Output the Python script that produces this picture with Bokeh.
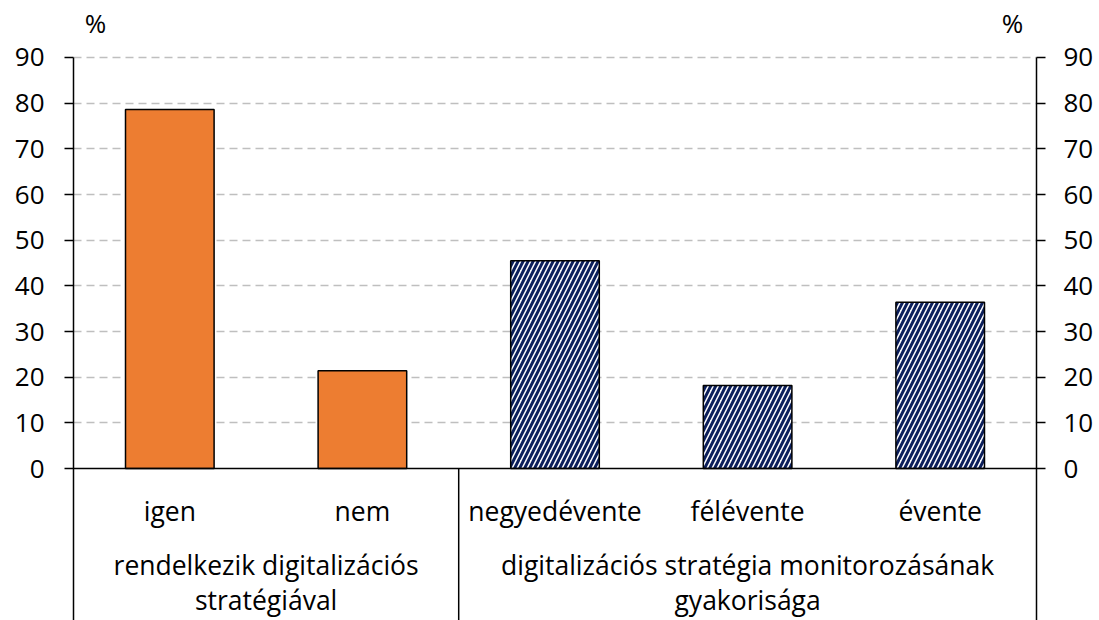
from bokeh.plotting import figure
from bokeh.models import Range1d, FixedTicker, LinearAxis, Span
from bokeh.core.properties import value
from bokeh.embed import file_html
from bokeh.resources import INLINE

# ---- data ----
categories = ["igen", "nem", "negyedévente", "félévente", "évente"]
values = [78.6, 21.4, 45.5, 18.2, 36.4]
group_lines = [["rendelkezik digitalizációs", "stratégiával"],
               ["digitalizációs stratégia monitorozásának", "gyakorisága"]]
group_sizes = [2, 3]
y_ticks = [0, 10, 20, 30, 40, 50, 60, 70, 80, 90]
unit_label = "%"

FONT = "Open Sans"
FS = "26.5px"
Y_MIN = -33.28
Y_MAX = 102.48

xs = [i + 0.5 for i in range(len(categories))]
n1 = group_sizes[0]

p = figure(width=1099, height=620, output_backend="svg", toolbar_location=None,
           x_range=Range1d(0, len(categories)), y_range=Range1d(Y_MIN, Y_MAX),
           x_axis_location=None, y_axis_location="left",
           min_border_left=73, min_border_right=63, min_border_top=0, min_border_bottom=0)
p.outline_line_color = None
p.background_fill_color = "white"
p.xgrid.visible = False
p.ygrid.ticker = FixedTicker(ticks=[t for t in y_ticks if t > 0])
p.ygrid.grid_line_color = "#bfbfbf"
p.ygrid.grid_line_dash = "8 5"
p.ygrid.grid_line_width = 1.5

ticker = FixedTicker(ticks=y_ticks)
right_axis = LinearAxis()
p.add_layout(right_axis, "right")
for ax in (p.yaxis[0], right_axis):
    ax.ticker = ticker
    ax.bounds = (Y_MIN, y_ticks[-1])
    ax.minor_tick_line_color = None
    ax.major_tick_in = 0
    ax.major_tick_out = 9
    ax.major_tick_line_width = 1.5
    ax.axis_line_width = 1.5
    ax.axis_line_color = "black"
    ax.major_tick_line_color = "black"
    ax.major_label_text_font = FONT
    ax.major_label_text_font_size = "26px"
    ax.major_label_text_color = "black"
p.yaxis[0].major_label_standoff = 20
right_axis.major_label_standoff = 18

# bars
p.vbar(x=xs[:n1], top=values[:n1], width=0.46, fill_color="#ED7D31",
       line_color="black", line_width=1.5)
p.vbar(x=xs[n1:], top=values[n1:], width=0.46, fill_color="white",
       hatch_pattern="right_diagonal_line", hatch_color="#0c1f5c",
       hatch_scale=10, hatch_weight=3, line_color="black", line_width=1.5)

# baseline and separator
p.add_layout(Span(location=0, dimension="width", line_color="black", line_width=1.5))
p.segment(x0=[n1], y0=[0], x1=[n1], y1=[Y_MIN], line_color="black", line_width=1.5)

# category labels
p.text(x=xs, y=[-9.2] * len(xs), text=categories, text_align="center",
       text_baseline="middle", text_font=value(FONT), text_font_size=FS, text_color="black")

# group labels
starts = [0, n1]
centers = [s + g / 2 for s, g in zip(starts, group_sizes)]
for c, lines in zip(centers, group_lines):
    p.text(x=[c, c], y=[-21.2, -28.9], text=lines, text_align="center",
           text_baseline="middle", text_font=value(FONT), text_font_size=FS, text_color="black")

# unit labels
p.text(x=[0.114, 4.875], y=[97.55, 97.55], text=[unit_label, unit_label], text_align="center",
       text_baseline="middle", text_font=value(FONT), text_font_size="26px", text_color="black")

open("out.html", "w").write(file_html(p, INLINE))
